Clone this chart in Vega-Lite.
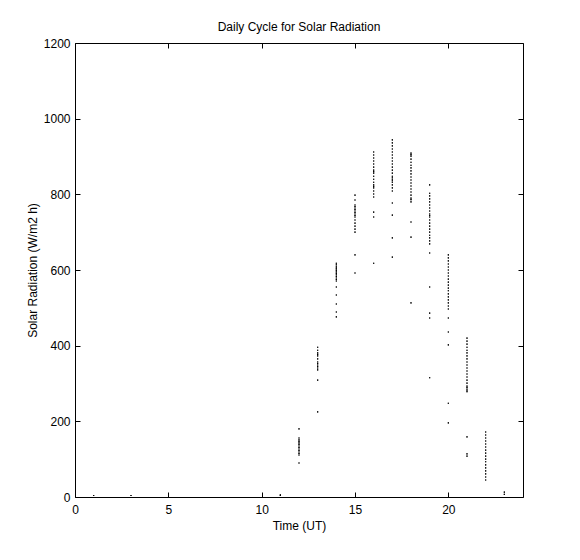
{
  "$schema": "https://vega.github.io/schema/vega-lite/v6.json",
  "autosize": "none",
  "width": 448,
  "height": 454,
  "padding": {"left": 75, "top": 43, "right": 57, "bottom": 63},
  "background": "white",
  "title": {"text": "Daily Cycle for Solar Radiation", "font": "Liberation Sans", "fontSize": 12, "fontWeight": "normal", "color": "black", "offset": 3, "anchor": "middle"},
  "config": {
    "view": {"stroke": null},
    "axis": {"grid": false, "labelFlush": false, "domainColor": "black", "tickColor": "black", "labelColor": "black", "titleColor": "black", "labelFont": "Liberation Sans", "titleFont": "Liberation Sans", "labelFontSize": 12, "titleFontSize": 12, "titleFontWeight": "normal", "tickSize": -5, "domainWidth": 1, "tickWidth": 1}
  },
  "data": {"values": [
    {"h":1,"v":4},{"h":3,"v":4},{"h":11,"v":6},{"h":11,"v":4},
    {"h":12,"v":180},{"h":12,"v":156},{"h":12,"v":151},{"h":12,"v":147},{"h":12,"v":143},{"h":12,"v":139},{"h":12,"v":135},{"h":12,"v":131},{"h":12,"v":127},{"h":12,"v":123},{"h":12,"v":119},{"h":12,"v":115},{"h":12,"v":111},{"h":12,"v":90},
    {"h":13,"v":396},{"h":13,"v":388},{"h":13,"v":381},{"h":13,"v":377},{"h":13,"v":373},{"h":13,"v":365},{"h":13,"v":357},{"h":13,"v":353},{"h":13,"v":349},{"h":13,"v":345},{"h":13,"v":341},{"h":13,"v":336},{"h":13,"v":309},{"h":13,"v":225},
    {"h":14,"v":618},{"h":14,"v":614},{"h":14,"v":610},{"h":14,"v":606},{"h":14,"v":603},{"h":14,"v":599},{"h":14,"v":595},{"h":14,"v":591},{"h":14,"v":587},{"h":14,"v":583},{"h":14,"v":579},{"h":14,"v":575},{"h":14,"v":571},{"h":14,"v":555},{"h":14,"v":534},{"h":14,"v":510},{"h":14,"v":489},{"h":14,"v":476},
    {"h":15,"v":798},{"h":15,"v":785},{"h":15,"v":772},{"h":15,"v":768},{"h":15,"v":764},{"h":15,"v":760},{"h":15,"v":756},{"h":15,"v":752},{"h":15,"v":748},{"h":15,"v":744},{"h":15,"v":740},{"h":15,"v":732},{"h":15,"v":724},{"h":15,"v":716},{"h":15,"v":708},{"h":15,"v":700},{"h":15,"v":640},{"h":15,"v":592},
    {"h":16,"v":912},{"h":16,"v":904},{"h":16,"v":896},{"h":16,"v":888},{"h":16,"v":880},{"h":16,"v":872},{"h":16,"v":864},{"h":16,"v":860},{"h":16,"v":856},{"h":16,"v":848},{"h":16,"v":840},{"h":16,"v":832},{"h":16,"v":825},{"h":16,"v":821},{"h":16,"v":817},{"h":16,"v":809},{"h":16,"v":801},{"h":16,"v":793},{"h":16,"v":753},{"h":16,"v":740},{"h":16,"v":618},
    {"h":17,"v":944},{"h":17,"v":936},{"h":17,"v":928},{"h":17,"v":920},{"h":17,"v":912},{"h":17,"v":904},{"h":17,"v":896},{"h":17,"v":888},{"h":17,"v":880},{"h":17,"v":872},{"h":17,"v":864},{"h":17,"v":856},{"h":17,"v":848},{"h":17,"v":844},{"h":17,"v":840},{"h":17,"v":836},{"h":17,"v":832},{"h":17,"v":825},{"h":17,"v":817},{"h":17,"v":809},{"h":17,"v":777},{"h":17,"v":745},{"h":17,"v":685},{"h":17,"v":634},
    {"h":18,"v":909},{"h":18,"v":905},{"h":18,"v":901},{"h":18,"v":893},{"h":18,"v":885},{"h":18,"v":877},{"h":18,"v":870},{"h":18,"v":862},{"h":18,"v":854},{"h":18,"v":846},{"h":18,"v":838},{"h":18,"v":830},{"h":18,"v":822},{"h":18,"v":814},{"h":18,"v":806},{"h":18,"v":798},{"h":18,"v":790},{"h":18,"v":786},{"h":18,"v":780},{"h":18,"v":727},{"h":18,"v":687},{"h":18,"v":513},
    {"h":19,"v":825},{"h":19,"v":803},{"h":19,"v":796},{"h":19,"v":788},{"h":19,"v":780},{"h":19,"v":772},{"h":19,"v":764},{"h":19,"v":756},{"h":19,"v":748},{"h":19,"v":744},{"h":19,"v":740},{"h":19,"v":732},{"h":19,"v":724},{"h":19,"v":716},{"h":19,"v":708},{"h":19,"v":700},{"h":19,"v":692},{"h":19,"v":685},{"h":19,"v":677},{"h":19,"v":669},{"h":19,"v":645},{"h":19,"v":555},{"h":19,"v":486},{"h":19,"v":473},{"h":19,"v":315},
    {"h":20,"v":640},{"h":20,"v":632},{"h":20,"v":624},{"h":20,"v":616},{"h":20,"v":608},{"h":20,"v":600},{"h":20,"v":592},{"h":20,"v":584},{"h":20,"v":576},{"h":20,"v":568},{"h":20,"v":560},{"h":20,"v":552},{"h":20,"v":545},{"h":20,"v":537},{"h":20,"v":529},{"h":20,"v":521},{"h":20,"v":513},{"h":20,"v":505},{"h":20,"v":497},{"h":20,"v":473},{"h":20,"v":436},{"h":20,"v":402},{"h":20,"v":248},{"h":20,"v":196},
    {"h":21,"v":420},{"h":21,"v":412},{"h":21,"v":404},{"h":21,"v":396},{"h":21,"v":388},{"h":21,"v":381},{"h":21,"v":373},{"h":21,"v":365},{"h":21,"v":357},{"h":21,"v":349},{"h":21,"v":341},{"h":21,"v":333},{"h":21,"v":325},{"h":21,"v":317},{"h":21,"v":309},{"h":21,"v":301},{"h":21,"v":293},{"h":21,"v":289},{"h":21,"v":285},{"h":21,"v":281},{"h":21,"v":278},{"h":21,"v":159},{"h":21,"v":114},{"h":21,"v":108},
    {"h":22,"v":172},{"h":22,"v":164},{"h":22,"v":156},{"h":22,"v":148},{"h":22,"v":140},{"h":22,"v":132},{"h":22,"v":124},{"h":22,"v":116},{"h":22,"v":108},{"h":22,"v":100},{"h":22,"v":93},{"h":22,"v":85},{"h":22,"v":77},{"h":22,"v":69},{"h":22,"v":61},{"h":22,"v":53},{"h":22,"v":45},
    {"h":23,"v":13},{"h":23,"v":7}
  ]},
  "layer": [
    {
      "mark": {"type": "square", "size": 1.2, "color": "black", "opacity": 1},
      "encoding": {
        "x": {"field": "h", "type": "quantitative", "scale": {"domain": [0, 24], "nice": false, "zero": false}, "axis": {"values": [0, 5, 10, 15, 20], "title": "Time (UT)", "labelPadding": 12, "titlePadding": 5, "orient": "bottom"}},
        "y": {"field": "v", "type": "quantitative", "scale": {"domain": [0, 1200], "nice": false}, "axis": {"values": [0, 200, 400, 600, 800, 1000, 1200], "format": "d", "title": "Solar Radiation (W/m2 h)", "labelPadding": 10, "titlePadding": 4, "orient": "left"}}
      }
    },
    {
      "mark": {"type": "square", "size": 1.2, "color": "black", "opacity": 1},
      "encoding": {
        "x": {"field": "h", "type": "quantitative", "scale": {"domain": [0, 24], "nice": false, "zero": false}, "axis": {"values": [0, 5, 10, 15, 20], "title": null, "labels": false, "orient": "top"}},
        "y": {"field": "v", "type": "quantitative", "scale": {"domain": [0, 1200], "nice": false}, "axis": {"values": [0, 200, 400, 600, 800, 1000, 1200], "title": null, "labels": false, "orient": "right"}}
      }
    }
  ],
  "resolve": {"axis": {"x": "independent", "y": "independent"}}
}
